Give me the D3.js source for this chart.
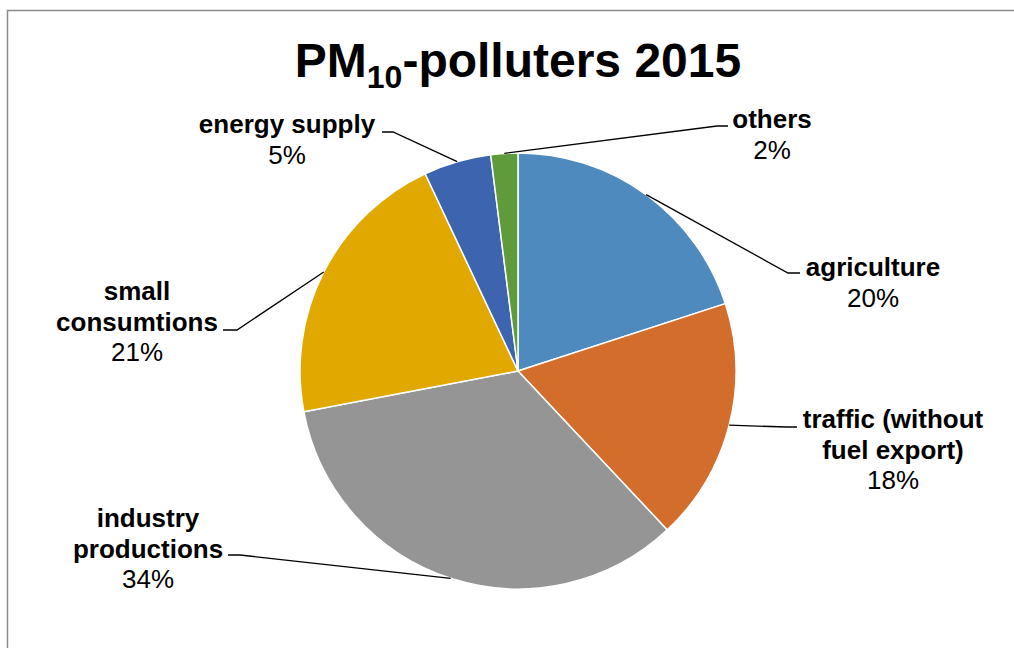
<!DOCTYPE html>
<html>
<head>
<meta charset="utf-8">
<script src="https://cdn.jsdelivr.net/npm/d3@7"></script>
<style>
  body { margin: 0; background: #fff; }
  svg { display: block; font-family: "Liberation Sans", Arial, sans-serif; }
</style>
</head>
<body>
<script>
// data
var categories = ["agriculture", "traffic (without fuel export)", "industry productions", "small consumtions", "energy supply", "others"];
var shares = [20, 18, 34, 21, 5, 2];
var labelLines = [["agriculture"], ["traffic (without", "fuel export)"], ["industry", "productions"], ["small", "consumtions"], ["energy supply"], ["others"]];
var colors = ["#4f8abe", "#d36d2b", "#959595", "#e1a900", "#3d64ae", "#5f9a3b"];

// label placement (text centre x, first baseline y, elbow x/y, end x)
var labelPos = [
  {x: 873, y: 276, ex: 788, ey: 273, tx: 800},
  {x: 893, y: 428, ex: 787, ey: 427, tx: 797},
  {x: 148, y: 527, ex: 240, ey: 555, tx: 228},
  {x: 137, y: 300, ex: 237, ey: 330, tx: 223},
  {x: 287, y: 133, ex: 393, ey: 132, tx: 382},
  {x: 772, y: 128, ex: 717, ey: 126, tx: 728}
];

function main() {
  var width = 1014, height = 648;
  var svg = d3.select("body").append("svg")
    .attr("width", width).attr("height", height);

  // outer frame
  svg.append("rect")
    .attr("x", 7.5).attr("y", 10.5)
    .attr("width", width + 20).attr("height", height + 20)
    .attr("fill", "none").attr("stroke", "#8c8c8c").attr("stroke-width", 1.5);

  // title
  var title = svg.append("text")
    .attr("x", 518).attr("y", 77)
    .attr("text-anchor", "middle")
    .attr("font-size", 48).attr("font-weight", "bold").attr("fill", "#000");
  title.append("tspan").text("PM");
  title.append("tspan").attr("font-size", 32).attr("dy", 11).text("10");
  title.append("tspan").attr("dy", -11).text("-polluters 2015");

  var cx = 518, cy = 371, radius = 218;
  var g = svg.append("g").attr("transform", "translate(" + cx + "," + cy + ")");

  var pie = d3.pie().sort(null).value(function(d) { return d; });
  var arcs = pie(shares);
  var arc = d3.arc().innerRadius(0).outerRadius(radius);
  var edge = d3.arc().innerRadius(radius).outerRadius(radius);

  g.selectAll("path.slice")
    .data(arcs)
    .enter().append("path")
    .attr("class", "slice")
    .attr("d", arc)
    .attr("fill", function(d, i) { return colors[i]; })
    .attr("stroke", "#fff")
    .attr("stroke-width", 1.5)
    .attr("stroke-linejoin", "round");

  // leader lines
  svg.selectAll("polyline.leader")
    .data(arcs)
    .enter().append("polyline")
    .attr("class", "leader")
    .attr("points", function(d, i) {
      var c = edge.centroid(d), p = labelPos[i];
      return [[c[0] + cx, c[1] + cy], [p.ex, p.ey], [p.tx, p.ey]].join(" ");
    })
    .attr("fill", "none").attr("stroke", "#000").attr("stroke-width", 1.3);

  // labels
  var lab = svg.selectAll("text.lab")
    .data(arcs)
    .enter().append("text")
    .attr("class", "lab")
    .attr("text-anchor", "middle")
    .attr("font-size", 26)
    .attr("fill", "#000");

  lab.each(function(d, i) {
    var t = d3.select(this), p = labelPos[i];
    labelLines[i].forEach(function(line, k) {
      t.append("tspan").attr("x", p.x).attr("y", p.y + k * 30.5)
        .attr("font-weight", "bold").text(line);
    });
    var pct = Math.round((d.endAngle - d.startAngle) / (2 * Math.PI) * 100);
    t.append("tspan").attr("x", p.x).attr("y", p.y + labelLines[i].length * 30.5)
      .text(pct + "%");
  });
}
main();
</script>
</body>
</html>
